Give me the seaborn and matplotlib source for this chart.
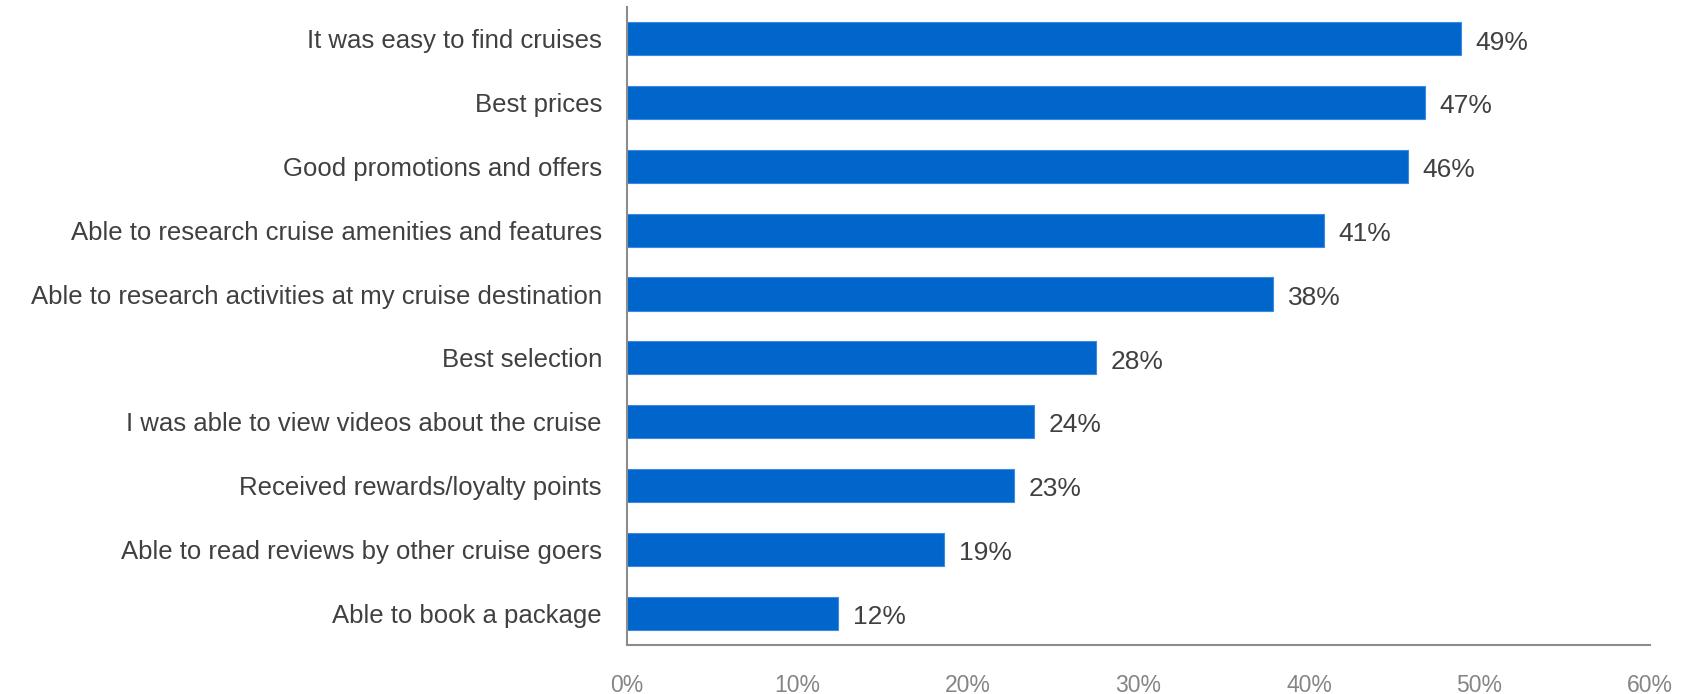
import matplotlib
matplotlib.use("Agg")
import matplotlib.pyplot as plt
import seaborn as sns
import pandas as pd

categories = [
    "It was easy to find cruises",
    "Best prices",
    "Good promotions and offers",
    "Able to research cruise amenities and features",
    "Able to research activities at my cruise destination",
    "Best selection",
    "I was able to view videos about the cruise",
    "Received rewards/loyalty points",
    "Able to read reviews by other cruise goers",
    "Able to book a package",
]
values = [48.9, 46.8, 45.8, 40.9, 37.9, 27.5, 23.9, 22.7, 18.6, 12.4]
value_labels = ["49%", "47%", "46%", "41%", "38%", "28%", "24%", "23%", "19%", "12%"]
x_ticks = [0, 10, 20, 30, 40, 50, 60]
x_tick_labels = ["0%", "10%", "20%", "30%", "40%", "50%", "60%"]

df = pd.DataFrame({"category": categories, "value": values})

sns.set_theme(style="white")
plt.rcParams["font.family"] = ["Liberation Sans", "DejaVu Sans"]

fig = plt.figure(figsize=(16.88, 6.94), dpi=100)
ax = fig.add_axes([0.3714, 0.0706, 0.9775 - 0.3714, 0.9195])

sns.barplot(data=df, x="value", y="category", orient="h", color="#0066CC",
            saturation=1, width=0.52, edgecolor="#3d8ae0", linewidth=0.8, ax=ax)

for i, (v, lab) in enumerate(zip(values, value_labels)):
    ax.text(v + 0.85, i + 0.06, lab, va="center", ha="left", fontsize=19, color="#404040")

ax.set_xlim(0, 60)
ax.set_ylim(9.5, -0.5)
ax.set_xticks(x_ticks)
ax.set_xticklabels(x_tick_labels, fontsize=16.5, color="#858585")
ax.tick_params(axis="x", length=0, pad=21)
ax.tick_params(axis="y", length=0, pad=18, labelsize=18.5, labelcolor="#404040")
ax.set_xlabel("")
ax.set_ylabel("")
for s in ["top", "right"]:
    ax.spines[s].set_visible(False)
for s in ["left", "bottom"]:
    ax.spines[s].set_color("#8c8c8c")
    ax.spines[s].set_linewidth(1.5)

fig.savefig("out.png", dpi=100)
